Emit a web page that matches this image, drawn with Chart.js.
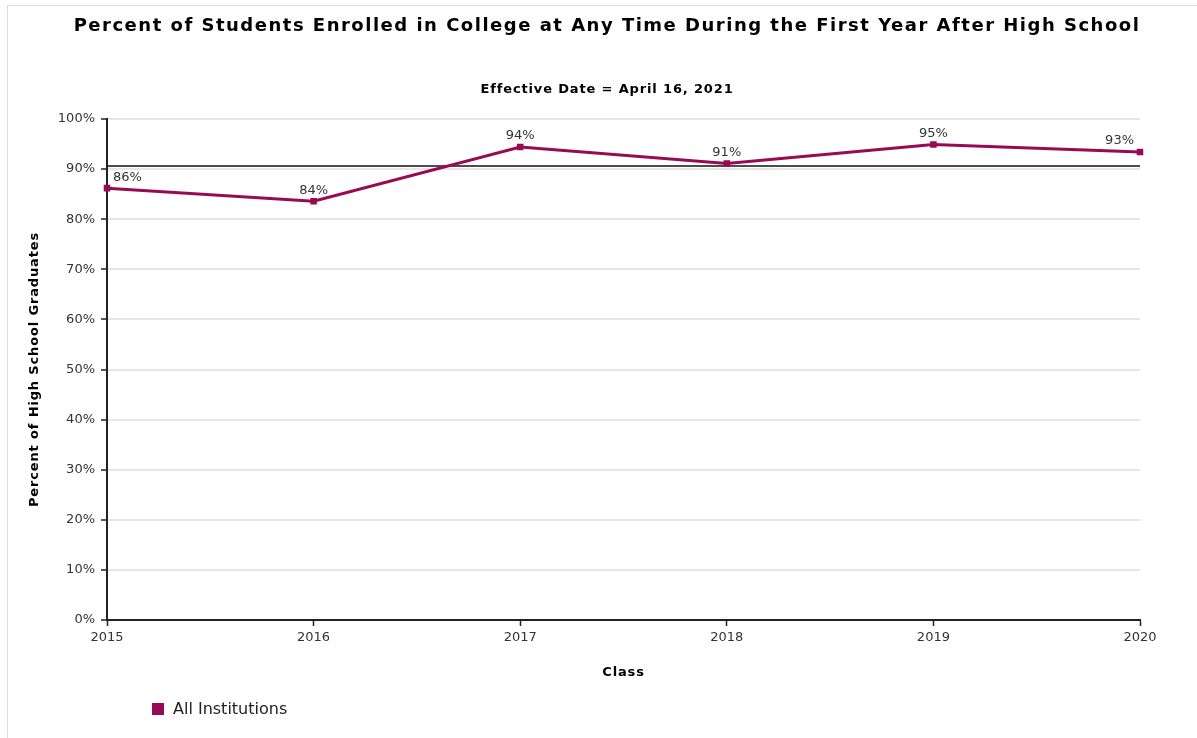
<!DOCTYPE html>
<html>
<head>
<meta charset="utf-8">
<script src="https://cdn.jsdelivr.net/npm/chart.js@4"></script>
<style>
  html, body { margin: 0; padding: 0; background: #fff; overflow: hidden; }
  #frame { position: absolute; left: 7px; top: 5px; width: 1400px; height: 900px; border: 1px solid #dcdcdc; }
  #wrap { position: absolute; left: 0; top: 0; width: 1197px; height: 738px; }
</style>
</head>
<body>
<div id="frame"></div>
<div id="wrap"><canvas id="enrolled"></canvas></div>
<script>
const years = ['2015', '2016', '2017', '2018', '2019', '2020'];
const allInstitutions = [86.2, 83.6, 94.4, 91.1, 94.9, 93.4];
const referenceValue = 90.6;
const yTicks = [0, 10, 20, 30, 40, 50, 60, 70, 80, 90, 100];

const lineColor = '#990a55';
const font = 'DejaVu Sans';

// the bold captions in the original are a bit spaced out
const spacedText = {
    id: 'spacedText',
    afterLayout(chart) {
        const ctx = chart.ctx;
        const wrap = (obj, name, spacing) => {
            if (obj['_wrapped_' + name]) return;
            const orig = obj[name];
            obj[name] = function (...args) {
                ctx.save();
                ctx.letterSpacing = spacing;
                orig.apply(this, args);
                ctx.restore();
            };
            obj['_wrapped_' + name] = true;
        };
        chart.boxes.forEach(box => {
            if (box.axis) {
                if (box.options.title && box.options.title.display) wrap(box, 'drawTitle', '0.85px');
            } else if (box.options && box.options.text) {
                wrap(box, 'draw', box.options.font.size >= 18 ? '1.5px' : '0.85px');
            }
        });
    }
};

// black horizontal reference line behind the series
const refLine = {
    id: 'refLine',
    beforeDatasetsDraw(chart) {
        const { ctx, chartArea, scales } = chart;
        const y = scales.y.getPixelForValue(referenceValue);
        ctx.save();
        ctx.strokeStyle = '#111';
        ctx.lineWidth = 1.5;
        ctx.beginPath();
        ctx.moveTo(chartArea.left, y);
        ctx.lineTo(chartArea.right, y);
        ctx.stroke();
        ctx.restore();
    }
};

// value labels above each point
const valueLabels = {
    id: 'valueLabels',
    afterDatasetsDraw(chart) {
        const { ctx } = chart;
        const meta = chart.getDatasetMeta(0);
        const vals = chart.data.datasets[0].data;
        ctx.save();
        ctx.font = '13px "' + font + '"';
        ctx.fillStyle = '#333';
        ctx.textBaseline = 'middle';
        meta.data.forEach((pt, i) => {
            let x = pt.x;
            ctx.textAlign = 'center';
            if (i === 0) { ctx.textAlign = 'left'; x += 6; }
            if (i === meta.data.length - 1) { ctx.textAlign = 'right'; x -= 6; }
            ctx.fillText(Math.round(vals[i]) + '%', x, pt.y - 11);
        });
        ctx.restore();
    }
};

// legend in the lower left corner
const seriesKey = {
    id: 'seriesKey',
    afterDraw(chart) {
        const { ctx } = chart;
        const ds = chart.data.datasets[0];
        ctx.save();
        ctx.fillStyle = ds.borderColor;
        ctx.fillRect(152, 703, 12, 12);
        ctx.font = '16px "' + font + '"';
        ctx.fillStyle = '#222';
        ctx.textAlign = 'left';
        ctx.textBaseline = 'middle';
        ctx.fillText(ds.label, 173, 709.5);
        ctx.restore();
    }
};

const ctx = document.getElementById('enrolled').getContext('2d');
const enrolledChart = new Chart(ctx, {
    type: 'line',
    data: {
        labels: years,
        datasets: [{
            label: 'All Institutions',
            data: allInstitutions,
            borderColor: lineColor,
            backgroundColor: lineColor,
            borderWidth: 3,
            pointStyle: 'rect',
            pointRadius: 2.5,
            pointHoverRadius: 2.5,
            tension: 0,
            fill: false
        }]
    },
    options: {
        responsive: true,
        maintainAspectRatio: false,
        animation: false,
        events: [],
        layout: { padding: { left: 17, right: 0, top: 4, bottom: 53.2 } },
        plugins: {
            legend: { display: false },
            tooltip: { enabled: false },
            title: {
                display: true,
                text: 'Percent of Students Enrolled in College at Any Time During the First Year After High School',
                color: '#000',
                font: { family: font, size: 18, weight: 'bold' },
                padding: { top: 11.7, bottom: 20 }
            },
            subtitle: {
                display: true,
                text: 'Effective Date = April 16, 2021',
                color: '#000',
                font: { family: font, size: 13, weight: 'bold' },
                padding: { top: 24.9, bottom: 21.2 }
            }
        },
        scales: {
            x: {
                grid: { display: true, drawOnChartArea: false, tickLength: 6, tickColor: '#222', tickWidth: 1.5 },
                border: { color: '#222', width: 2 },
                ticks: { color: '#333', font: { family: font, size: 13 }, padding: 4, maxRotation: 0 },
                title: {
                    display: true,
                    text: 'Class',
                    color: '#000',
                    font: { family: font, size: 13, weight: 'bold' },
                    padding: { top: 4, bottom: 4 }
                },
                afterFit(s) { s.height = 64.8; }
            },
            y: {
                min: 0,
                max: 100,
                afterBuildTicks(s) { s.ticks = yTicks.map(v => ({ value: v })); },
                grid: { color: '#e6e6e6', lineWidth: 2, tickLength: 6, tickColor: '#222', tickWidth: 1.5 },
                border: { color: '#222', width: 2 },
                ticks: {
                    color: '#333',
                    font: { family: font, size: 13 },
                    padding: 6,
                    callback: v => v + '%'
                },
                title: {
                    display: true,
                    text: 'Percent of High School Graduates',
                    color: '#000',
                    font: { family: font, size: 13, weight: 'bold' },
                    padding: { top: 10.2, bottom: 4 }
                },
                afterFit(s) { s.width = 90; }
            },
            // empty axis on the right that only reserves the right margin
            yRight: {
                position: 'right',
                display: true,
                grid: { display: false },
                border: { display: false },
                ticks: { display: false },
                afterFit(s) { s.width = 57; }
            }
        }
    },
    plugins: [spacedText, refLine, valueLabels, seriesKey]
});
</script>
</body>
</html>
